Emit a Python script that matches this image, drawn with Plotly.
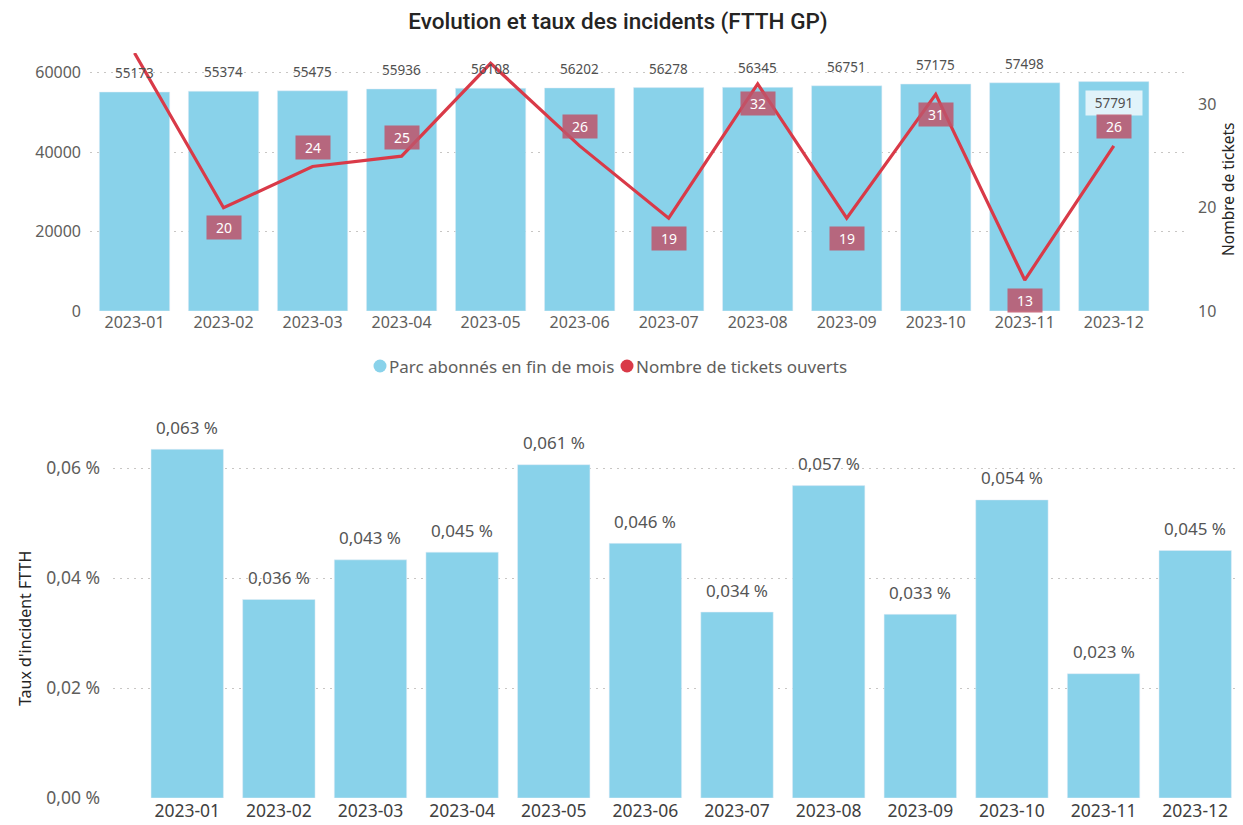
import plotly.graph_objects as go

months = ["2023-01", "2023-02", "2023-03", "2023-04", "2023-05", "2023-06",
          "2023-07", "2023-08", "2023-09", "2023-10", "2023-11", "2023-12"]
parc = [55173, 55374, 55475, 55936, 56108, 56202, 56278, 56345, 56751, 57175, 57498, 57791]
tickets = [35, 20, 24, 25, 34, 26, 19, 32, 19, 31, 13, 26]
taux = [0.0634, 0.0361, 0.0433, 0.0447, 0.0606, 0.0463, 0.0338, 0.0568, 0.0334, 0.0542, 0.0226, 0.0450]
parc_ticks = [0, 20000, 40000, 60000]
ticket_ticks = [10, 20, 30]
taux_ticks = [0, 0.02, 0.04, 0.06]
taux_ticktext = ["0,00 %", "0,02 %", "0,04 %", "0,06 %"]

# label placement (style only)
ticket_label_pos = [None, "below", "above", "above", None, "above",
                    "below", "below", "below", "below", "below", "above"]
parc_label_inside = [False] * 11 + [True]

W, H = 1243, 825
OFF = 8  # page body margin
BAR = "#89D2EA"
RED = "#D93A48"
FONT = "Noto Sans, Open Sans, sans-serif"
GRID = "#C8C6C4"
TXT = "#605E5C"
DARK = "#252423"

def px_x(p):
    return (p - OFF) / W

def px_y(p):
    return 1 - (p - OFF) / H

fig = go.Figure()

fig.add_trace(go.Bar(x=months, y=parc, marker_color=BAR, showlegend=False,
                     name="Parc abonnés en fin de mois", xaxis="x", yaxis="y"))
fig.add_trace(go.Scatter(x=months, y=tickets, mode="lines", line=dict(color=RED, width=3.2),
                         name="Nombre de tickets ouverts",
                         showlegend=False, xaxis="x", yaxis="y2", cliponaxis=False))
fig.add_trace(go.Bar(x=months, y=taux, marker_color=BAR, showlegend=False,
                     name="Taux d'incident FTTH", xaxis="x2", yaxis="y3"))

annotations = []
for m, v, inside in zip(months, parc, parc_label_inside):
    if inside:
        annotations.append(dict(x=m, y=v, xref="x", yref="y", text=str(v), showarrow=False,
                                yshift=-21, bgcolor="rgba(228,244,250,0.97)",
                                width=54, height=22,
                                font=dict(family=FONT, size=13.5, color="#505050")))
    else:
        annotations.append(dict(x=m, y=v, xref="x", yref="y", text=str(v), showarrow=False,
                                yshift=19, font=dict(family=FONT, size=13.5, color="#505050")))

for m, v, pos in zip(months, tickets, ticket_label_pos):
    if pos is None:
        continue
    annotations.append(dict(x=m, y=v, xref="x", yref="y2", text=str(v), showarrow=False,
                            yshift=19 if pos == "above" else -20,
                            bgcolor="rgba(190,85,107,0.85)", width=32, height=21,
                            font=dict(family=FONT, size=14, color="white")))

for m, v in zip(months, taux):
    annotations.append(dict(x=m, y=v, xref="x2", yref="y3",
                            text=(f"{v:.3f} %").replace(".", ","), showarrow=False,
                            yshift=22, font=dict(family=FONT, size=17, color="#555555")))

# axis titles
annotations.append(dict(x=px_x(1228), y=px_y(190), xref="paper", yref="paper",
                        xanchor="center", yanchor="middle",
                        text="Nombre de tickets", textangle=-90, showarrow=False,
                        font=dict(family=FONT, size=15.5, color=DARK)))
annotations.append(dict(x=px_x(25), y=px_y(629), xref="paper", yref="paper",
                        xanchor="center", yanchor="middle",
                        text="Taux d'incident FTTH", textangle=-90, showarrow=False,
                        font=dict(family=FONT, size=16, color=DARK)))

# manual legend
legend_items = [("Parc abonnés en fin de mois", BAR, 380), ("Nombre de tickets ouverts", RED, 627)]
shapes = []
for label, col, cx in legend_items:
    shapes.append(dict(type="circle", xref="paper", yref="paper",
                       x0=px_x(cx - 6.5), x1=px_x(cx + 6.5), y0=px_y(366 + 6.5), y1=px_y(366 - 6.5),
                       fillcolor=col, line=dict(width=0)))
    annotations.append(dict(x=px_x(cx + 7), y=px_y(366), xref="paper", yref="paper",
                            xanchor="left", yanchor="middle", text=label, showarrow=False,
                            font=dict(family=FONT, size=17, color=TXT)))

GRIDDASH = "2px,5px"

fig.update_layout(
    width=W, height=H,
    margin=dict(l=0, r=0, t=0, b=0),
    paper_bgcolor="white", plot_bgcolor="white",
    font=dict(family=FONT, color=TXT),
    bargap=0.21,
    title=dict(text="Evolution et taux des incidents (FTTH GP)", x=px_x(618), xanchor="center",
               y=px_y(21), yanchor="middle",
               font=dict(family="Roboto, sans-serif", size=22.5, color=DARK, weight=500)),
    showlegend=False,
    xaxis=dict(domain=[px_x(90), px_x(1185)], anchor="y", type="category", automargin=False,
               range=[-0.5, 11.8], showgrid=False, showline=False, ticks="",
               tickfont=dict(size=16, color=TXT)),
    yaxis=dict(domain=[px_y(311), px_y(53)], anchor="x", range=[0, 65000], automargin=False,
               tickvals=parc_ticks, ticktext=[str(t) for t in parc_ticks],
               showgrid=True, gridcolor=GRID,
               griddash=GRIDDASH, zeroline=False, tickfont=dict(size=16, color=TXT),
               ticklabelstandoff=8),
    yaxis2=dict(overlaying="y", side="right", anchor="x", range=[10, 35], automargin=False,
                tickvals=ticket_ticks, showgrid=False, zeroline=False,
                tickfont=dict(size=16, color=TXT), ticklabelstandoff=12),
    xaxis2=dict(domain=[px_x(113), px_x(1241)], anchor="y3", type="category", automargin=False,
                range=[-0.81, 11.5], showgrid=False, showline=False, ticks="",
                tickfont=dict(size=17.5, color="#404040")),
    yaxis3=dict(domain=[px_y(798), px_y(413)], anchor="x2", range=[0, 0.07], automargin=False,
                tickvals=taux_ticks, ticktext=taux_ticktext,
                showgrid=True, gridcolor=GRID, griddash=GRIDDASH, zeroline=False,
                tickfont=dict(size=17.5, color=TXT), ticklabelstandoff=12),
    annotations=annotations,
    shapes=shapes,
)

fig.write_html("out.html")
